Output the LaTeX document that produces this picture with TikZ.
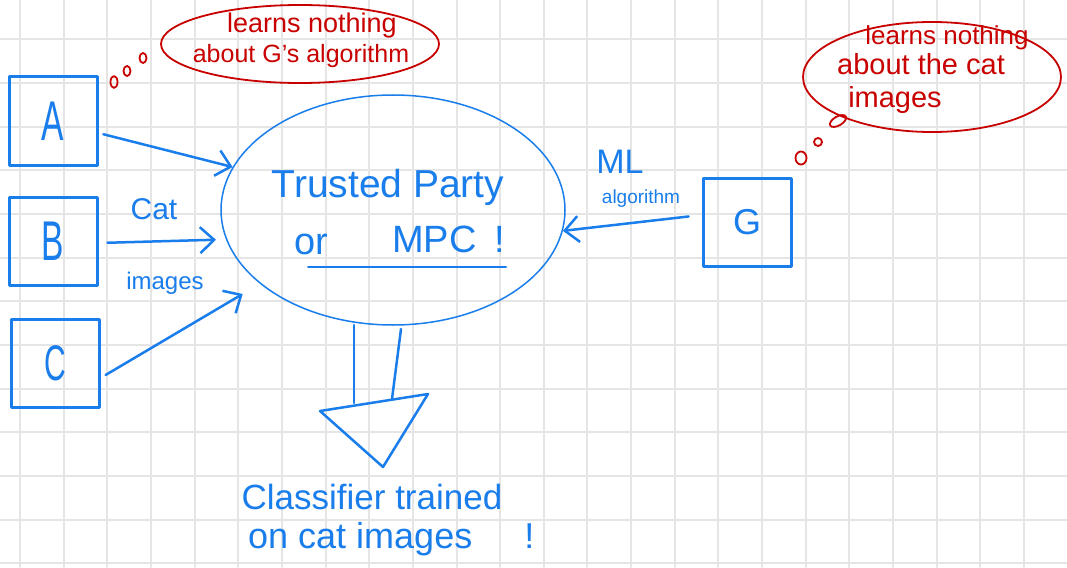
\documentclass[tikz,border=0pt]{standalone}
\usepackage{fontspec}
\setmainfont{Liberation Sans}
\newfontfamily\narrowhand[FakeStretch=0.6]{Liberation Sans}
\usetikzlibrary{arrows.meta,shapes.geometric}
\definecolor{inkblue}{RGB}{25,125,235}
\definecolor{inkred}{RGB}{200,0,0}
\definecolor{gridgray}{RGB}{229,229,229}

\begin{document}
\begin{tikzpicture}[x=1pt,y=-1pt,>={Straight Barb[length=14pt,width=26pt]},line cap=round,line join=round]
  \tikzset{party/.style={draw=inkblue,text=inkblue,line width=3pt,minimum size=88pt,inner sep=0pt},
    hand/.style={text=inkblue,inner sep=0pt},
    thought/.style={text=inkred,inner sep=0pt},
    bubble/.style={draw=inkred,line width=1.8pt,ellipse,inner sep=0pt},
    link/.style={->,draw=inkblue,line width=2.5pt}}
  \useasboundingbox[fill=white] (0,0) rectangle (1067,567);
  % grid paper
  \foreach \i in {0,...,24} \draw[gridgray,line width=2pt] (20+\i*43.65,0) -- (20+\i*43.65,567);
  \foreach \j in {0,...,12} \draw[gridgray,line width=2pt] (0,39.4+\j*43.65) -- (1067,39.4+\j*43.65);

  % parties
  \node[party,font=\fontsize{56}{56}\narrowhand] (A) at (53,121) {A};
  \node[party,font=\fontsize{56}{56}\narrowhand] (B) at (53,241) {B};
  \node[party,font=\fontsize{50}{50}\narrowhand] (C) at (55,363) {C};
  \node[party,font=\fontsize{36}{36}\selectfont] (G) at (747,222) {G};

  % trusted party
  \node[draw=inkblue,line width=1.5pt,ellipse,minimum width=344pt,minimum height=230pt] (tp) at (393,210) {};
  \node[hand,font=\fontsize{39}{39}\selectfont,anchor=base] (trusted) at (388,197) {Trusted Party};
  \node[hand,font=\fontsize{38}{38}\selectfont,anchor=base] (or) at (311,254) {or};
  \node[hand,font=\fontsize{38}{38}\selectfont,anchor=base west] (mpc) at (392,252) {MPC\hspace{18pt}!};
  \draw[inkblue,line width=2pt] (308,267) -- (506,267);

  \draw[link,shorten <=5pt] ([yshift=-12pt]A.east) -- (tp.165);
  \draw[link,shorten <=9pt,shorten >=10pt] ([yshift=-2pt]B.east) -- (tp.190);
  \draw[link,shorten <=6pt,shorten >=20pt] ([yshift=-15pt]C.east) -- (tp.209);
  \draw[link,shorten <=13pt] ([yshift=7pt]G.west) -- (tp.353);

  \node[hand,font=\fontsize{30}{30}\selectfont,anchor=base] (cat) at (154,219) {Cat};
  \node[hand,font=\fontsize{24}{24}\selectfont,anchor=base] (images) at (165,289) {images};
  \node[hand,font=\fontsize{34}{34}\selectfont,anchor=base] (ml) at (620,173) {ML};
  \node[hand,font=\fontsize{19}{19}\selectfont,anchor=base] (algo) at (641,203) {algorithm};

  % classifier
  \coordinate (tri1) at (320,411);
  \coordinate (tri2) at (428,394);
  \coordinate (tri3) at (383,467);
  \draw[inkblue,line width=2.5pt] (354,325) -- (354,403);
  \draw[inkblue,line width=2.5pt] (401,329) -- (392,399);
  \draw[inkblue,line width=2.5pt] (tri1) -- (tri2) -- (tri3) -- cycle;
  \node[hand,font=\fontsize{35}{35}\selectfont,anchor=base] (clf) at (372,509) {Classifier trained};
  \node[hand,font=\fontsize{36}{36}\selectfont,anchor=base west] (oncat) at (248,548) {on\hspace{10pt}cat\hspace{10pt}images\hspace{52pt}!};

  % thought bubbles
  \node[bubble,minimum width=278pt,minimum height=78pt] (gbub) at (300,44) {};
  \node[thought,font=\fontsize{27}{27}\selectfont,anchor=base] (gl1) at (312,33) {learns nothing};
  \node[thought,font=\fontsize{25}{25}\selectfont,anchor=base] (gl2) at (301,63) {about G's algorithm};
  \draw[inkred,line width=1.8pt] (114,82) ellipse (3.5 and 6);
  \draw[inkred,line width=1.8pt] (127,71) ellipse (3.5 and 5);
  \draw[inkred,line width=1.8pt] (143,58) ellipse (3.5 and 5);

  \node[bubble,minimum width=258pt,minimum height=110pt] (cbub) at (932,77) {};
  \draw[inkred,line width=1.8pt] (838,121) ellipse [x radius=9,y radius=4.5,rotate=30];
  \draw[inkred,line width=1.8pt] (801,158) ellipse (5.5 and 6.5);
  \draw[inkred,line width=1.8pt] (818,142) ellipse (4 and 4);
  \node[thought,font=\fontsize{26}{26}\selectfont,anchor=base] (cl1) at (947,45) {learns nothing};
  \node[thought,font=\fontsize{29}{29}\selectfont,anchor=base] (cl2) at (921,75) {about the cat};
  \node[thought,font=\fontsize{29}{29}\selectfont,anchor=base] (cl3) at (895,107) {images};
\end{tikzpicture}
\end{document}
